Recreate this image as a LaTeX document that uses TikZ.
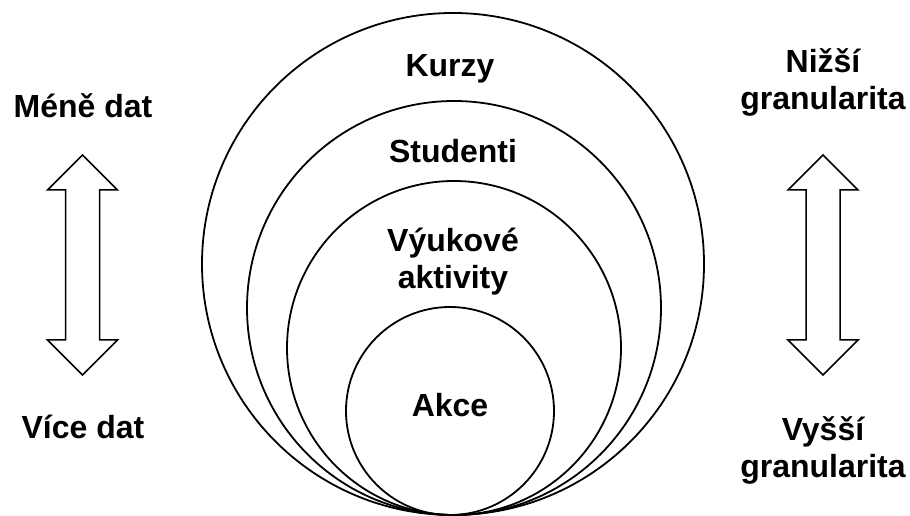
\documentclass[tikz,border=0pt]{standalone}
\usepackage{fontspec}
\setmainfont{Liberation Sans}
\begin{document}
\begin{tikzpicture}[x=1pt,y=1pt,
  ring/.style={circle,draw,line width=1.8pt,inner sep=0pt,minimum size=#1},
  lbl/.style={font=\fontsize{32}{37.5}\selectfont\bfseries,align=center,anchor=base,inner sep=0pt},
  updown/.pic={
    \draw[line width=1.5pt,line join=miter,fill=white]
      (0,110) -- (35,75) -- (17,75) -- (17,-75) -- (35,-75) -- (0,-110)
      -- (-35,-75) -- (-17,-75) -- (-17,75) -- (-35,75) -- cycle;
  }]
\useasboundingbox (0,0) rectangle (910,516);

% nested levels, all touching at the bottom
\node[ring=502pt] (kurzy)    at (453,252) {};
\node[ring=414pt] (studenti) at (454,208) {};
\node[ring=334pt] (aktivity) at (454,168) {};
\node[ring=208pt] (akce)     at (450,105) {};

% labels are anchored at the baseline of their last line
\node[lbl] (tkurzy)    at (450,439) {Kurzy};
\node[lbl] (tstudenti) at (453,353) {Studenti};
\node[lbl] (taktivity) at (453,227) {Výukové\\aktivity};
\node[lbl] (takce)     at (450,99)  {Akce};

% left scale: amount of data
\node[lbl] (mene) at (83,398) {Méně dat};
\node[lbl] (vice) at (83,77)  {Více dat};
\pic (dataarrow) at (82.5,251) {updown};

% right scale: granularity
\node[lbl] (nizsi) at (823,406) {Nižší\\granularita};
\node[lbl] (vyssi) at (823,38)  {Vyšší\\granularita};
\pic (granarrow) at (823,251) {updown};
\end{tikzpicture}
\end{document}
